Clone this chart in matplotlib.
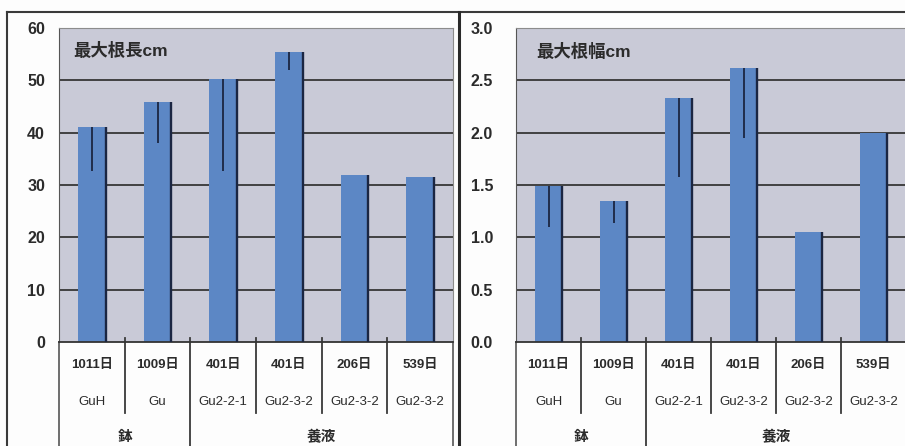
import numpy as np
import matplotlib
matplotlib.use('Agg')
import matplotlib.pyplot as plt
from matplotlib.lines import Line2D
from matplotlib.transforms import blended_transform_factory

plt.rcParams['font.family'] = ['Liberation Sans', 'Noto Sans CJK JP']

# --- data ---
days = ['1011日', '1009日', '401日', '401日', '206日', '539日']
strains = ['GuH', 'Gu', 'Gu2-2-1', 'Gu2-3-2', 'Gu2-3-2', 'Gu2-3-2']
groups = ['鉢', '養液']
group_sizes = [2, 4]

root_length = [41.0, 45.9, 50.3, 55.4, 32.0, 31.5]
root_length_err = [8.4, 7.8, 17.7, 3.4, 0.0, 0.0]
root_width = [1.49, 1.35, 2.33, 2.62, 1.05, 2.00]
root_width_err = [0.39, 0.21, 0.75, 0.67, 0.0, 0.0]

W, H = 905, 446
BAR = '#5c87c5'
EDGE = '#1b2642'
TXT = '#2b2b2b'


def px_rect(x0, y0, x1, y1):
    """Figure-fraction rect from pixel corners (origin top-left)."""
    return [x0 / W, 1 - y1 / H, (x1 - x0) / W, (y1 - y0) / H]


def draw_panel(ax, vals, errs, title, ymax, step, fmt, pad, title_xy):
    n = len(vals)
    x = np.arange(n)
    ax.set_facecolor('#c9cad7')
    ax.set_xlim(-0.5, n - 0.5)
    ax.set_ylim(0, ymax)
    ticks = np.arange(0, ymax + step / 2, step)
    ax.set_yticks(ticks)
    ax.set_yticklabels([fmt.format(t) for t in ticks])
    ax.tick_params(axis='y', length=0, pad=pad, labelsize=11.5, labelcolor=TXT)
    for lbl in ax.get_yticklabels():
        lbl.set_fontweight('bold')
    ax.set_xticks([])
    for t in ticks[1:-1]:
        ax.axhline(t, color='#363636', lw=1.3, zorder=1)
    for side in ['top', 'right']:
        ax.spines[side].set_color('#8c8c8c')
    ax.spines['left'].set_color('#555555')
    ax.spines['bottom'].set_color('#333333')
    ax.spines['bottom'].set_linewidth(1.3)

    w = 0.42
    ax.bar(x, vals, width=w, color=BAR, zorder=2)
    ax.vlines(x + w / 2, 0, vals, color=EDGE, lw=1.7, zorder=3)
    has_err = np.array(errs) > 0
    ax.errorbar(x[has_err], np.array(vals)[has_err],
                yerr=[np.array(errs)[has_err], np.zeros(has_err.sum())],
                fmt='none', ecolor=EDGE, elinewidth=1.3, capsize=0, zorder=4)

    ax.text(title_xy[0], title_xy[1], title, transform=ax.transAxes,
            fontsize=12.5, fontweight='bold', color=TXT, va='center', ha='left')

    # category table under the axis
    tr = blended_transform_factory(ax.transData, ax.transAxes)
    for i in range(n):
        ax.text(i, -0.073, days[i], transform=tr, ha='center', va='center',
                fontsize=9.5, fontweight='bold', color=TXT)
        ax.text(i, -0.191, strains[i], transform=tr, ha='center', va='center',
                fontsize=9.5, color=TXT)
    bounds = np.cumsum([0] + group_sizes) - 0.5
    for i in range(1, n):
        b = i - 0.5
        y_end = -0.34 if b in bounds else -0.226
        ax.add_line(Line2D([b, b], [0.013, y_end], transform=tr,
                           color='#3a3a3a', lw=1.3, clip_on=False))
    for b in (bounds[0], bounds[-1]):
        ax.add_line(Line2D([b, b], [0, -0.34], transform=tr,
                           color='#555555', lw=1.2, clip_on=False))
    for g, lo, hi in zip(groups, bounds[:-1], bounds[1:]):
        ax.text((lo + hi) / 2, -0.303, g, transform=tr, ha='center',
                va='center', fontsize=10.5, fontweight='bold', color=TXT)


fig = plt.figure(figsize=(W / 100, H / 100), dpi=100)
fig.patch.set_facecolor('#fdfdfd')

ax1 = fig.add_axes(px_rect(59, 28, 453, 342))
ax2 = fig.add_axes(px_rect(516, 28, 906, 342))

draw_panel(ax1, root_length, root_length_err, '最大根長cm', 60, 10, '{:.0f}',
           10, (0.036, 0.93))
draw_panel(ax2, root_width, root_width_err, '最大根幅cm', 3.0, 0.5, '{:.1f}',
           16.5, (0.051, 0.924))

# outer frames of the two panels
ft = fig.transFigure
fig.add_artist(Line2D([7 / W, 1], [1 - 12 / H, 1 - 12 / H], transform=ft,
                      color='#3a3a3a', lw=1.5))
fig.add_artist(Line2D([7 / W, 7 / W], [0, 1 - 12 / H], transform=ft,
                      color='#3a3a3a', lw=1.5))
fig.add_artist(Line2D([459 / W, 459 / W], [0, 1 - 12 / H], transform=ft,
                      color='#2a2a2a', lw=2.2))

fig.savefig('out.png', dpi=100)
